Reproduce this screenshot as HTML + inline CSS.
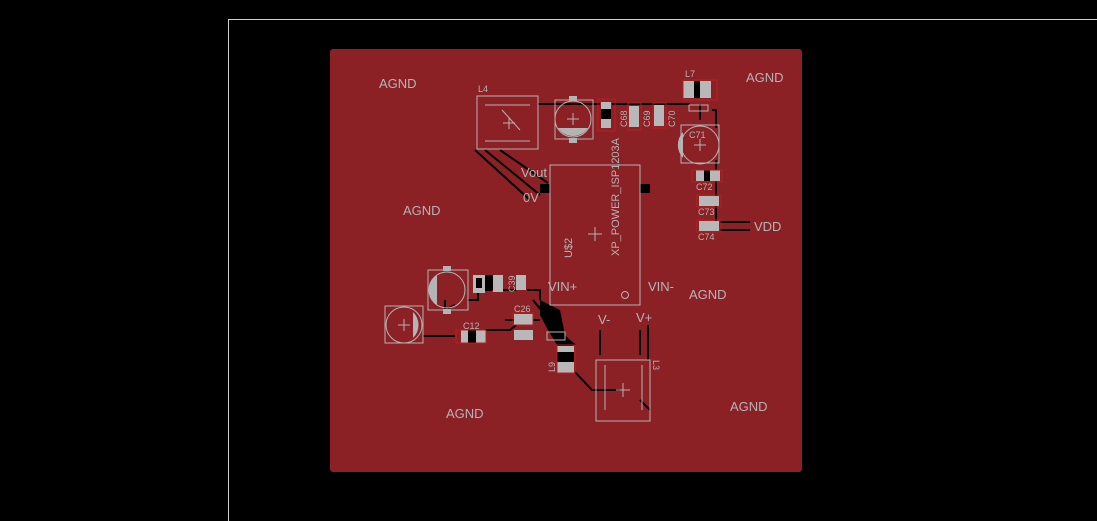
<!DOCTYPE html>
<html><head><meta charset="utf-8"><style>
html,body{margin:0;padding:0;background:#000;width:1097px;height:521px;overflow:hidden}
svg{display:block}
text{font-family:"Liberation Sans",sans-serif;fill:#b4b4b4}
</style></head><body>
<svg width="1097" height="521" viewBox="0 0 1097 521" xmlns="http://www.w3.org/2000/svg">
<rect width="1097" height="521" fill="#000"/>
<path d="M228.5 521 V19.5 H1097" fill="none" stroke="#d0d0d0" stroke-width="1"/>
<rect x="330" y="49" width="472" height="423" rx="3" fill="#8c2125"/>

<g stroke="#000" fill="none" stroke-width="2">
<path d="M538 104 H600 M612 104 H690 M700 104 V120 M712 110 H716 V128 M716 160 V170 M716 181 V196 M716 206 V221"/>
<path d="M485 150 L540 195 M500 150 L548 183 M475 150 L530 200"/>
<path d="M720 222 H750 M720 230 H750"/>
<path d="M468 300 H478 V283 M485 290 H492 M503 290 H516 M527 290 H540 V300"/>
<path d="M423 336 H455 M485 330 H510 L520 322 M505 320 H540"/>
<path d="M533 300 L545 315 L555 330 L575 345 M540 305 L560 328"/>
<path d="M575 372 L592 390 H620 M640 400 L650 410"/>
<path d="M600 330 V355 M640 330 V355 M648 325 V360"/>
<path d="M445 300 V310 L455 305"/>
</g>
<polygon points="540,300 560,310 565,335 575,345 560,350 548,330 540,315" fill="#000"/>
<rect x="540" y="184" width="10" height="9" fill="#000"/>
<rect x="640" y="184" width="10" height="9" fill="#000"/>

<g stroke="#b4b4b4" fill="none" stroke-width="1">
<rect x="477" y="96" width="61" height="53"/>
<path d="M485 105 H530 M485 141 H530 M502 110 L520 130"/>
<path d="M503 123 H515 M509 117 V129"/>
<rect x="555" y="100" width="38" height="39"/>
<circle cx="573" cy="119" r="18"/>
<path d="M567 119 H579 M573 113 V125"/>
<rect x="550" y="165" width="90" height="140"/>
<path d="M588 234 H602 M595 227 V241"/>
<circle cx="625" cy="295" r="3.5"/>
<rect x="681" y="125" width="38" height="38"/>
<circle cx="700" cy="145" r="19"/>
<path d="M694 145 H706 M700 139 V151"/>
<rect x="428" y="270" width="40" height="40"/>
<circle cx="447" cy="290" r="18"/>
<rect x="385" y="306" width="38" height="37"/>
<circle cx="404" cy="325" r="18"/>
<path d="M398 325 H410 M404 319 V331"/>
<rect x="596" y="360" width="54" height="61"/>
<path d="M616 390 H630 M623 383 V397 M605 365 V410 M642 365 V410"/>
<rect x="547" y="332" width="18" height="8"/>
<rect x="689" y="105" width="19" height="6"/>
</g>
<path d="M558 128 A18 18 0 0 0 588 128 Z" fill="#b4b4b4"/>
<rect x="569" y="96" width="8" height="5" fill="#b4b4b4"/><rect x="569" y="138" width="8" height="5" fill="#b4b4b4"/>
<path d="M683 132 A19 19 0 0 0 683 158 Z" fill="#b4b4b4"/>
<path d="M437 275 A18 18 0 0 0 437 305 Z" fill="#b4b4b4"/>
<rect x="443" y="266" width="8" height="5" fill="#b4b4b4"/><rect x="443" y="309" width="8" height="5" fill="#b4b4b4"/>
<path d="M413 312 A18 18 0 0 1 413 338 Z" fill="#b4b4b4"/>

<g>
<g fill="#b8b8b8"><rect x="601" y="102" width="10" height="26"/><rect x="629" y="106" width="10" height="21"/><rect x="654" y="105" width="10" height="21"/>
<rect x="683" y="81" width="28" height="17"/><rect x="696" y="170" width="24" height="11"/><rect x="699" y="196" width="20" height="10"/><rect x="699" y="221" width="20" height="10"/>
<rect x="473" y="275" width="12" height="18"/><rect x="493" y="275" width="10" height="17"/><rect x="516" y="275" width="10" height="15"/>
<rect x="461" y="330" width="25" height="13"/><rect x="514" y="314" width="19" height="11"/><rect x="514" y="330" width="19" height="10"/><rect x="557" y="346" width="17" height="27"/></g>
<g fill="#000"><rect x="601" y="109" width="10" height="10"/><rect x="694" y="81" width="6" height="17"/><rect x="704" y="170" width="6" height="11"/><rect x="476" y="278" width="6" height="10"/><rect x="468" y="330" width="8" height="13"/><rect x="557" y="352" width="17" height="10"/><rect x="485" y="275" width="8" height="15"/></g>
<g fill="none" stroke="#b51e24"><rect x="598" y="99" width="17" height="32"/><rect x="628" y="103" width="13" height="27"/><rect x="653" y="103" width="13" height="25"/><rect x="683" y="80" width="34" height="20"/><rect x="692" y="170" width="30" height="12"/><rect x="697" y="195" width="24" height="12"/><rect x="697" y="220" width="24" height="12"/><rect x="456" y="330" width="30" height="13"/><rect x="513" y="313" width="20" height="12"/><rect x="557" y="345" width="18" height="28"/></g>
</g>

<g font-size="13">
<text x="379" y="88">AGND</text><text x="746" y="82">AGND</text><text x="403" y="215">AGND</text>
<text x="689" y="299">AGND</text><text x="446" y="418">AGND</text><text x="730" y="411">AGND</text>
<text x="521" y="177">Vout</text><text x="523" y="202">0V</text>
<text x="548" y="291">VIN+</text><text x="648" y="291">VIN-</text>
<text x="754" y="231">VDD</text>
<text x="598" y="324">V-</text><text x="636" y="322">V+</text>
</g>
<g font-size="9">
<text x="478" y="92">L4</text><text x="685" y="77">L7</text>
<text x="696" y="190">C72</text><text x="698" y="215">C73</text><text x="698" y="240">C74</text>
<text x="689" y="138">C71</text><text x="514" y="312">C26</text><text x="463" y="329">C12</text>
<text transform="translate(627,127) rotate(-90)">C68</text>
<text transform="translate(650,127) rotate(-90)">C69</text>
<text transform="translate(675,127) rotate(-90)">C70</text>
<text transform="translate(515,292) rotate(-90)">C39</text>
<text transform="translate(555,372) rotate(-90)">L9</text>
<text transform="translate(653,360) rotate(90)">L3</text>
</g>
<text transform="translate(619,256) rotate(-90)" font-size="11">XP_POWER_ISP1203A</text>
<text transform="translate(572,258) rotate(-90)" font-size="11">U$2</text>
</svg>
</body></html>
